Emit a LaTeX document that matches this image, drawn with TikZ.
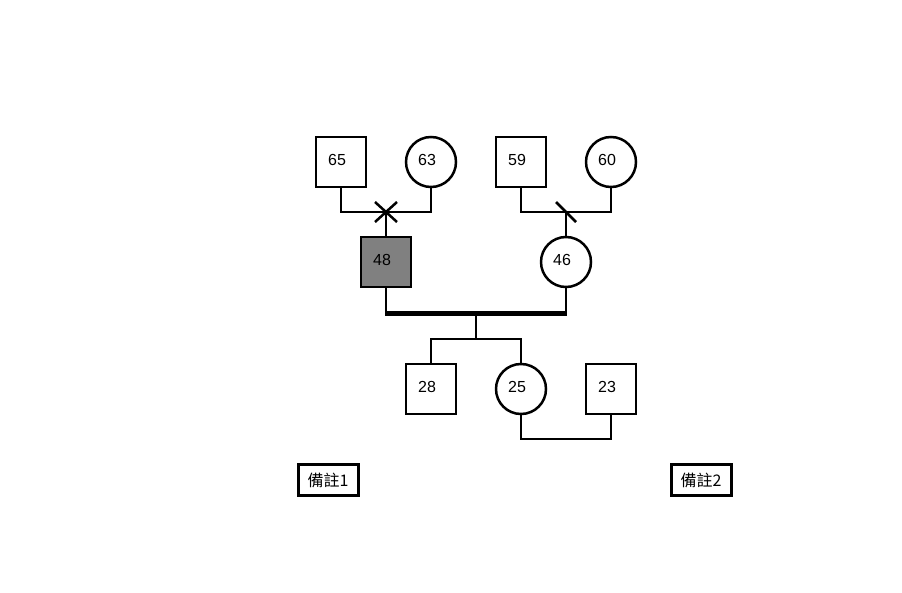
\documentclass[tikz,border=0pt]{standalone}
\usepackage{fontspec}
\usetikzlibrary{calc}
\setmainfont{Liberation Sans}
\newfontfamily\cjkfont{Noto Sans CJK TC}
\begin{document}
\begin{tikzpicture}[x=1pt,y=-1pt,
  every node/.style={font=\fontsize{16}{18}\selectfont},
  male/.style={draw, line width=2.5pt, minimum size=50pt, inner sep=0pt, fill=white},
  female/.style={draw, circle, line width=2.5pt, minimum size=50pt, inner sep=0pt, fill=white},
  affected/.style={fill=black!50},
  lbl/.style={label={[xshift=-4pt,yshift=2pt]center:#1}},
  conn/.style={line width=2.5pt},
  bond/.style={line width=5pt},
  note/.style={draw, line width=3pt, minimum width=60pt, minimum height=31pt, inner sep=0pt, font=\cjkfont\fontsize{16}{18}\selectfont}]
\useasboundingbox (0,0) rectangle (902,593);
% generation I
\node[male, lbl=65] (g65) at (341,162) {};
\node[female, lbl=63] (g63) at (431,162) {};
\node[male, lbl=59] (g59) at (521,162) {};
\node[female, lbl=60] (g60) at (611,162) {};
% generation II
\node[male, affected, lbl=48] (g48) at (386,262) {};
\node[female, lbl=46] (g46) at (566,262) {};
% generation III
\node[male, lbl=28] (g28) at (431,389) {};
\node[female, lbl=25] (g25) at (521,389) {};
\node[male, lbl=23] (g23) at (611,389) {};
% notes
\node[note] (n1) at (328,480) {備註1};
\node[note] (n2) at (701,480) {備註2};
% junctions
\coordinate (m1) at (386,212);
\coordinate (m2) at (566,212);
\coordinate (m3) at (476,314);
\coordinate (s3) at (476,339);
\coordinate (m4) at (566,439);
% couple 1
\draw[conn] (g65.south) |- (m1) -| (g63.south);
\draw[conn] (m1) -- (g48.north);
\draw[conn] ($(m1)+(-11,-10)$) -- ($(m1)+(11,10)$);
\draw[conn] ($(m1)+(-11,10)$) -- ($(m1)+(11,-10)$);
% couple 2
\draw[conn] (g59.south) |- (m2) -| (g60.south);
\draw[conn] (m2) -- (g46.north);
\draw[conn] ($(m2)+(-10,-10)$) -- ($(m2)+(10,10)$);
% couple 3
\draw[conn] (g48.south) -- (g48.south |- m3);
\draw[conn] (g46.south) -- (g46.south |- m3);
\draw[bond] ([xshift=-1pt]g48.south |- m3) -- ([xshift=1pt]g46.south |- m3);
\draw[conn] (m3) -- (s3);
\draw[conn] (g28.north) |- (s3) -| (g25.north);
% couple 4
\draw[conn] (g25.south) |- (m4) -| (g23.south);
\end{tikzpicture}
\end{document}
